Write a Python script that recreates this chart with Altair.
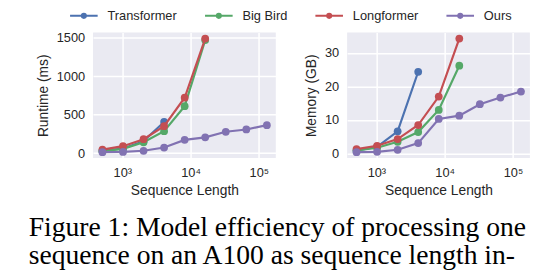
import altair as alt
import pandas as pd

# ---- data ----
lengths = [512, 1024, 2048, 4096, 8192, 16384, 32768, 65536, 131072]
models = ["Transformer", "Big Bird", "Longformer", "Ours"]
colors = ["#4C72B0", "#55A868", "#C44E52", "#8172B2"]

runtime_transformer = [30, 60, 155, 405]
runtime_bigbird = [25, 55, 140, 285, 610, 1470]
runtime_longformer = [45, 90, 180, 350, 720, 1490]
runtime_ours = [12, 15, 30, 72, 172, 205, 277, 307, 363]

memory_transformer = [0.8, 2.0, 6.6, 24.4]
memory_bigbird = [0.9, 1.7, 3.5, 6.4, 13.0, 26.2]
memory_longformer = [1.3, 2.3, 4.3, 8.5, 17.0, 34.3]
memory_ours = [0.4, 0.5, 1.1, 3.1, 10.3, 11.3, 14.7, 16.7, 18.5]

x_tick_values = [1000, 10000, 100000]
x_tick_labels = ["10³", "10⁴", "10⁵"]
runtime_ticks = [0, 500, 1000, 1500]
memory_ticks = [0, 10, 20, 30]

caption_lines = [
    "Figure 1: Model efficiency of processing one",
    "sequence on an A100 as sequence length in-",
]

# ---- tables ----
def table(series_list, field):
    rows = []
    for m, vals in zip(models, series_list):
        for L, v in zip(lengths, vals):
            rows.append({"model": m, "length": L, field: v})
    return pd.DataFrame(rows)

df_rt = table([runtime_transformer, runtime_bigbird, runtime_longformer, runtime_ours], "value")
df_mem = table([memory_transformer, memory_bigbird, memory_longformer, memory_ours], "value")

TEXT = "#262626"
SANS = "Liberation Sans"
W, H = 185.5, 127.3

label_expr = " : ".join(
    f"datum.value == {v} ? '{t}'" for v, t in zip(x_tick_values, x_tick_labels)
) + " : ''"

legend_path = ("M-1,0L1,0M0.15,0A0.15,0.15,0,1,1,-0.15,0"
               "A0.15,0.15,0,1,1,0.15,0Z")

color = alt.Color(
    "model:N",
    scale=alt.Scale(domain=models, range=colors),
    legend=alt.Legend(
        orient="none", legendX=-24.3, legendY=-32, direction="horizontal",
        columns=4, title=None, symbolType=legend_path, symbolSize=784,
        symbolStrokeWidth=2, symbolOffset=0, labelFont=SANS, labelFontSize=13,
        labelColor=TEXT, labelOffset=9, columnPadding=24, padding=0,
    ),
)


def panel(df, ytitle, ydomain, yticks, title_x):
    x = alt.X(
        "length:Q",
        scale=alt.Scale(type="log", domain=[372.7, 177070], nice=False),
        axis=alt.Axis(
            values=x_tick_values, labelExpr=label_expr, title="Sequence Length",
            titleY=36.7, titleBaseline="alphabetic", labelBaseline="alphabetic",
            labelPadding=18.7, labelFlush=False,
        ),
    )
    y = alt.Y(
        "value:Q",
        scale=alt.Scale(domain=ydomain, nice=False, zero=False),
        axis=alt.Axis(
            values=yticks, format="d", title=ytitle, titleX=title_x, titleY=H / 2,
            titleAngle=270, titleAlign="center", titleBaseline="middle",
            labelPadding=8.5,
        ),
    )
    base = alt.Chart(df)
    layers = []
    for m in models:
        sub = base.transform_filter(alt.datum.model == m)
        layers.append(sub.mark_line(strokeWidth=2.2).encode(x=x, y=y, color=color))
        layers.append(
            sub.mark_point(filled=True, size=62, opacity=1).encode(x=x, y=y, color=color)
        )
    return layers


left_layers = panel(df_rt, "Runtime (ms)", [-64, 1568], runtime_ticks, -50.3)
caption = alt.Chart(pd.DataFrame({"k": [0]})).mark_text(
    text=caption_lines, font="Liberation Serif", fontSize=28, lineHeight=29,
    align="left", baseline="alphabetic", color="black",
).encode(x=alt.value(-65.3), y=alt.value(206))

left = alt.layer(*left_layers, caption).properties(width=W, height=H)
right = alt.layer(
    *panel(df_mem, "Memory (GB)", [-1.35, 36.1], memory_ticks, -35.7)
).properties(width=W, height=H)

chart = (
    alt.hconcat(left, right, spacing=71.9, bounds="flush")
    .resolve_scale(color="shared", x="independent", y="independent")
    .resolve_legend(color="shared")
    .properties(
        padding={"left": 86.3, "top": 22, "right": 455.7, "bottom": 244},
        autosize=alt.AutoSizeParams(type="none"),
    )
    .configure_view(fill="#EAEAF2", stroke=None)
    .configure_axis(
        domain=False, ticks=False, grid=True, gridColor="white", gridWidth=1.5,
        labelFont=SANS, labelFontSize=13, labelColor=TEXT,
        titleFont=SANS, titleFontSize=14, titleFontWeight="normal", titleColor=TEXT,
    )
)

chart.save("out.html", embed_options={"renderer": "svg", "actions": False})
